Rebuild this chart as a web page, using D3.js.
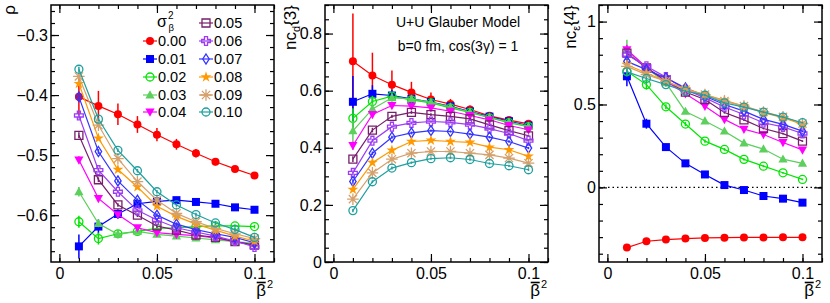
<!DOCTYPE html>
<html>
<head>
<meta charset="utf-8">
<script src="https://cdn.jsdelivr.net/npm/d3@7"></script>
<style>
  body { margin: 0; background: #fff; }
  svg text { font-family: "Liberation Sans", Arial, Helvetica, sans-serif; fill: #000; }
</style>
</head>
<body>
<svg id="chart" width="830" height="303"></svg>
<script>
// x values (beta bar squared) shared by all three panels
const betaBar2 = [0.01, 0.02, 0.03, 0.04, 0.05, 0.06, 0.07, 0.08, 0.09, 0.10];

// one series per sigma_beta^2 value
const sigmaLabels = ["0.00", "0.01", "0.02", "0.03", "0.04", "0.05", "0.06", "0.07", "0.08", "0.09", "0.10"];
const seriesColors = ["#ff0000", "#0000ff", "#00e600", "#5ccf5c", "#ff00ff", "#771f6c",
                      "#9d3cf5", "#3333ff", "#ff9900", "#d4a06c", "#1fa0a0"];
const seriesMarkers = ["circle", "square", "circleOpen", "triangle", "triangleDown", "squareOpen",
                       "crossOpen", "diamondOpen", "star", "asterisk", "circleOpen"];

// left panel: rho
const rhoValues = [
  [-0.403, -0.418, -0.432, -0.449, -0.466, -0.482, -0.497, -0.511, -0.523, -0.534],
  [-0.652, -0.619, -0.598, -0.581, -0.577, -0.575, -0.578, -0.581, -0.587, -0.591],
  [-0.611, -0.639, -0.631, -0.627, -0.622, -0.621, -0.619, -0.618, -0.618, -0.619],
  [-0.561, -0.614, -0.632, -0.627, -0.632, -0.635, -0.638, -0.641, -0.644, -0.647],
  [-0.508, -0.572, -0.599, -0.621, -0.629, -0.632, -0.634, -0.638, -0.644, -0.650],
  [-0.467, -0.541, -0.583, -0.600, -0.618, -0.625, -0.633, -0.637, -0.644, -0.650],
  [-0.434, -0.525, -0.561, -0.592, -0.608, -0.621, -0.628, -0.635, -0.643, -0.653],
  [-0.403, -0.494, -0.543, -0.575, -0.600, -0.615, -0.624, -0.631, -0.637, -0.646],
  [-0.381, -0.472, -0.524, -0.553, -0.585, -0.602, -0.615, -0.625, -0.635, -0.643],
  [-0.369, -0.450, -0.506, -0.544, -0.575, -0.597, -0.611, -0.622, -0.631, -0.639],
  [-0.357, -0.440, -0.492, -0.526, -0.561, -0.583, -0.599, -0.613, -0.624, -0.637]
];
const rhoErrors = [
  [0.030, 0.025, 0.018, 0.014, 0.011, 0.009, 0.007, 0.006, 0.005, 0.004],
  [0.020, 0.012, 0.008, 0.006, 0.005, 0.004, 0.004, 0.003, 0.003, 0.003],
  [0.010, 0.010, 0.006, 0.004, 0.003, 0.003, 0.003, 0.003, 0.003, 0.003],
  [0.008, 0.006, 0.004, 0.003, 0.003, 0.003, 0.003, 0.003, 0.003, 0.003],
  [0.006, 0.005, 0.004, 0.003, 0.003, 0.003, 0.003, 0.003, 0.003, 0.003],
  [0.005, 0.004, 0.003, 0.003, 0.003, 0.003, 0.003, 0.003, 0.003, 0.003],
  [0.005, 0.004, 0.003, 0.003, 0.003, 0.003, 0.003, 0.003, 0.003, 0.003],
  [0.004, 0.004, 0.003, 0.003, 0.003, 0.003, 0.003, 0.003, 0.003, 0.003],
  [0.004, 0.003, 0.003, 0.003, 0.003, 0.003, 0.003, 0.003, 0.003, 0.003],
  [0.004, 0.003, 0.003, 0.003, 0.003, 0.003, 0.003, 0.003, 0.003, 0.003],
  [0.004, 0.003, 0.003, 0.003, 0.003, 0.003, 0.003, 0.003, 0.003, 0.003]
];

// middle panel: nc_d{3}
const ncd3Values = [
  [0.703, 0.653, 0.621, 0.594, 0.569, 0.553, 0.534, 0.512, 0.497, 0.484],
  [0.561, 0.589, 0.583, 0.571, 0.560, 0.545, 0.527, 0.509, 0.493, 0.478],
  [0.503, 0.562, 0.581, 0.568, 0.557, 0.540, 0.524, 0.505, 0.488, 0.474],
  [0.459, 0.536, 0.575, 0.571, 0.559, 0.543, 0.525, 0.507, 0.490, 0.475],
  [0.408, 0.517, 0.548, 0.546, 0.540, 0.528, 0.513, 0.498, 0.478, 0.463],
  [0.360, 0.462, 0.510, 0.524, 0.516, 0.510, 0.501, 0.480, 0.460, 0.442],
  [0.312, 0.425, 0.474, 0.487, 0.492, 0.489, 0.481, 0.467, 0.450, 0.425],
  [0.282, 0.381, 0.437, 0.452, 0.460, 0.457, 0.448, 0.437, 0.422, 0.399],
  [0.254, 0.348, 0.391, 0.422, 0.426, 0.422, 0.419, 0.402, 0.393, 0.370],
  [0.220, 0.312, 0.360, 0.381, 0.387, 0.387, 0.381, 0.375, 0.364, 0.346],
  [0.180, 0.281, 0.329, 0.348, 0.362, 0.365, 0.359, 0.345, 0.337, 0.323]
];
const ncd3Errors = [
  [0.167, 0.080, 0.050, 0.037, 0.025, 0.018, 0.014, 0.011, 0.009, 0.008],
  [0.090, 0.030, 0.020, 0.015, 0.012, 0.010, 0.008, 0.007, 0.006, 0.005],
  [0.035, 0.020, 0.012, 0.010, 0.008, 0.007, 0.006, 0.005, 0.005, 0.004],
  [0.035, 0.020, 0.012, 0.010, 0.008, 0.007, 0.006, 0.005, 0.005, 0.004],
  [0.015, 0.010, 0.008, 0.006, 0.005, 0.005, 0.004, 0.004, 0.004, 0.004],
  [0.010, 0.008, 0.006, 0.005, 0.005, 0.004, 0.004, 0.004, 0.004, 0.004],
  [0.008, 0.006, 0.005, 0.005, 0.004, 0.004, 0.004, 0.004, 0.004, 0.004],
  [0.008, 0.006, 0.005, 0.005, 0.004, 0.004, 0.004, 0.004, 0.004, 0.004],
  [0.006, 0.005, 0.005, 0.004, 0.004, 0.004, 0.004, 0.004, 0.004, 0.004],
  [0.006, 0.005, 0.005, 0.004, 0.004, 0.004, 0.004, 0.004, 0.004, 0.004],
  [0.006, 0.005, 0.005, 0.004, 0.004, 0.004, 0.004, 0.004, 0.004, 0.004]
];

// right panel: nc_eps{4}
const nce4Values = [
  [-0.363, -0.325, -0.315, -0.309, -0.305, -0.303, -0.302, -0.302, -0.301, -0.301],
  [0.670, 0.384, 0.243, 0.145, 0.078, 0.014, -0.016, -0.052, -0.068, -0.092],
  [0.700, 0.620, 0.486, 0.382, 0.279, 0.229, 0.169, 0.128, 0.088, 0.048],
  [0.830, 0.720, 0.630, 0.458, 0.400, 0.339, 0.267, 0.231, 0.170, 0.145],
  [0.830, 0.725, 0.640, 0.565, 0.490, 0.410, 0.351, 0.319, 0.271, 0.226],
  [0.810, 0.720, 0.645, 0.575, 0.530, 0.452, 0.407, 0.355, 0.324, 0.279],
  [0.800, 0.730, 0.665, 0.590, 0.540, 0.485, 0.440, 0.390, 0.365, 0.325],
  [0.760, 0.710, 0.660, 0.600, 0.550, 0.500, 0.460, 0.410, 0.380, 0.339],
  [0.740, 0.690, 0.640, 0.595, 0.560, 0.525, 0.490, 0.450, 0.420, 0.380],
  [0.730, 0.680, 0.640, 0.590, 0.560, 0.520, 0.490, 0.455, 0.425, 0.385],
  [0.697, 0.657, 0.620, 0.580, 0.556, 0.510, 0.484, 0.454, 0.424, 0.390]
];
const nce4Errors = [
  [0.008, 0.006, 0.005, 0.004, 0.004, 0.004, 0.004, 0.004, 0.004, 0.004],
  [0.060, 0.030, 0.020, 0.015, 0.010, 0.008, 0.007, 0.006, 0.005, 0.005],
  [0.030, 0.030, 0.015, 0.012, 0.010, 0.008, 0.007, 0.006, 0.005, 0.005],
  [0.060, 0.020, 0.015, 0.012, 0.010, 0.008, 0.007, 0.006, 0.005, 0.005],
  [0.030, 0.015, 0.012, 0.010, 0.008, 0.007, 0.006, 0.005, 0.005, 0.005],
  [0.020, 0.015, 0.012, 0.010, 0.008, 0.007, 0.006, 0.005, 0.005, 0.005],
  [0.020, 0.015, 0.012, 0.010, 0.008, 0.007, 0.006, 0.005, 0.005, 0.005],
  [0.015, 0.012, 0.010, 0.008, 0.007, 0.006, 0.005, 0.005, 0.005, 0.005],
  [0.015, 0.012, 0.010, 0.008, 0.007, 0.006, 0.005, 0.005, 0.005, 0.005],
  [0.015, 0.012, 0.010, 0.008, 0.007, 0.006, 0.005, 0.005, 0.005, 0.005],
  [0.015, 0.012, 0.010, 0.008, 0.007, 0.006, 0.005, 0.005, 0.005, 0.005]
];

// tick values
const xMajorTicks = [0, 0.05, 0.1];
const rhoMajorTicks = [-0.6, -0.5, -0.4, -0.3];
const ncd3MajorTicks = [0, 0.2, 0.4, 0.6, 0.8];
const nce4MajorTicks = [0, 0.5, 1];

const svg = d3.select("#chart");
const fmt = d3.format("~g");

// minor ticks: every step inside the domain
const minorTicks = (domain, step) => {
  const lo = Math.ceil(Math.min(...domain) / step - 1e-9);
  const hi = Math.floor(Math.max(...domain) / step + 1e-9);
  return d3.range(lo, hi + 1).map(i => +(i * step).toFixed(4));
};

// marker shapes, s is the half size
const markerPath = (type, s) => {
  switch (type) {
    case "circle":
    case "circleOpen":
      return `M${s},0A${s},${s} 0 1 1 ${-s},0A${s},${s} 0 1 1 ${s},0Z`;
    case "square":
    case "squareOpen":
      return `M${-s},${-s}H${s}V${s}H${-s}Z`;
    case "triangle":
      return `M0,${-1.2 * s}L${1.15 * s},${0.85 * s}L${-1.15 * s},${0.85 * s}Z`;
    case "triangleDown":
      return `M0,${1.2 * s}L${1.15 * s},${-0.85 * s}L${-1.15 * s},${-0.85 * s}Z`;
    case "crossOpen": {
      const a = s * 0.38, b = s * 1.1;
      return `M${-a},${-b}H${a}V${-a}H${b}V${a}H${a}V${b}H${-a}V${a}H${-b}V${-a}H${-a}Z`;
    }
    case "diamondOpen":
      return `M0,${-1.25 * s}L${0.8 * s},0L0,${1.25 * s}L${-0.8 * s},0Z`;
    case "star":
      return d3.symbol(d3.symbolStar, 2.3 * s * s)();
    case "asterisk": {
      const r = 1.45 * s, d = r * Math.SQRT1_2;
      return `M${-r},0H${r}M0,${-r}V${r}M${-d},${-d}L${d},${d}M${-d},${d}L${d},${-d}`;
    }
  }
};

const drawMarker = (g, type, color, s) => {
  const open = ["circleOpen", "squareOpen", "crossOpen", "diamondOpen", "asterisk"].includes(type);
  return g.append("path")
    .attr("d", markerPath(type, s))
    .attr("fill", open ? "none" : color)
    .attr("stroke", open ? color : "none")
    .attr("stroke-width", 1.3);
};

const frameTop = 5, frameBottom = 262, frameWidth = 223;
const xDomain = [-0.0043, 0.11];

function drawPanel(cfg) {
  const { left, yDomain, yMajor, yMinorStep, values, errors } = cfg;
  const x = d3.scaleLinear().domain(xDomain).range([left, left + frameWidth]);
  const y = d3.scaleLinear().domain(yDomain).range([frameBottom, frameTop]);
  const g = svg.append("g");

  // zero line (right panel only)
  if (cfg.zeroLine) {
    g.append("line")
      .attr("x1", left).attr("x2", left + frameWidth)
      .attr("y1", y(0)).attr("y2", y(0))
      .attr("stroke", "#000").attr("stroke-width", 1.3)
      .attr("stroke-dasharray", "1.5,3");
  }

  // series, drawn in order so the last ones sit on top
  values.forEach((vals, si) => {
    const color = seriesColors[si];
    const sg = g.append("g");
    const pts = betaBar2.map((b, i) => ({ b, v: vals[i], e: errors[si][i] }));

    sg.selectAll(".err")
      .data(pts)
      .join("line")
        .attr("x1", d => x(d.b)).attr("x2", d => x(d.b))
        .attr("y1", d => y(d.v - d.e)).attr("y2", d => y(d.v + d.e))
        .attr("stroke", color).attr("stroke-width", 1.5);

    sg.append("path")
      .datum(pts)
      .attr("fill", "none")
      .attr("stroke", color)
      .attr("stroke-width", 1.2)
      .attr("d", d3.line().x(d => x(d.b)).y(d => y(d.v)));

    pts.forEach(d => {
      drawMarker(sg, seriesMarkers[si], color, 4)
        .attr("transform", `translate(${x(d.b)},${y(d.v)})`);
    });
  });

  // axes: ticks pointing inwards on all four sides
  const xMinor = minorTicks(xDomain, 0.01);
  const yMinor = minorTicks(yDomain, yMinorStep);
  const axisStyle = sel => {
    sel.select(".domain").remove();
    sel.selectAll(".tick line").attr("stroke", "#000").attr("stroke-width", 1.2);
    sel.selectAll("text").style("font-size", "16px").attr("fill", "#000");
  };

  g.append("g").attr("transform", `translate(0,${frameBottom})`)
    .call(d3.axisBottom(x).tickValues(xMajorTicks).tickSize(-8).tickPadding(6).tickFormat(fmt))
    .call(axisStyle);
  g.append("g").attr("transform", `translate(0,${frameBottom})`)
    .call(d3.axisBottom(x).tickValues(xMinor).tickSize(-4).tickFormat(""))
    .call(axisStyle);
  g.append("g").attr("transform", `translate(0,${frameTop})`)
    .call(d3.axisTop(x).tickValues(xMajorTicks).tickSize(-8).tickFormat(""))
    .call(axisStyle);
  g.append("g").attr("transform", `translate(0,${frameTop})`)
    .call(d3.axisTop(x).tickValues(xMinor).tickSize(-4).tickFormat(""))
    .call(axisStyle);

  g.append("g").attr("transform", `translate(${left},0)`)
    .call(d3.axisLeft(y).tickValues(yMajor).tickSize(-8).tickPadding(3).tickFormat(fmt))
    .call(axisStyle);
  g.append("g").attr("transform", `translate(${left},0)`)
    .call(d3.axisLeft(y).tickValues(yMinor).tickSize(-4).tickFormat(""))
    .call(axisStyle);
  g.append("g").attr("transform", `translate(${left + frameWidth},0)`)
    .call(d3.axisRight(y).tickValues(yMajor).tickSize(-8).tickFormat(""))
    .call(axisStyle);
  g.append("g").attr("transform", `translate(${left + frameWidth},0)`)
    .call(d3.axisRight(y).tickValues(yMinor).tickSize(-4).tickFormat(""))
    .call(axisStyle);

  // frame
  g.append("rect")
    .attr("x", left).attr("y", frameTop)
    .attr("width", frameWidth).attr("height", frameBottom - frameTop)
    .attr("fill", "none").attr("stroke", "#000").attr("stroke-width", 1.5);

  // x title: beta bar squared
  const right = left + frameWidth;
  const bt = g.append("text")
    .attr("x", right - 8).attr("y", 296)
    .attr("text-anchor", "end")
    .style("font-size", "17px")
    .text("β");
  g.append("text")
    .attr("x", right - 7).attr("y", 288)
    .style("font-size", "11px")
    .text("2");
  const bb = bt.node().getBBox();
  g.append("line")
    .attr("x1", bb.x + 0.5).attr("x2", bb.x + bb.width - 0.5)
    .attr("y1", 282.5).attr("y2", 282.5)
    .attr("stroke", "#000").attr("stroke-width", 1.6);

  // y title, rotated and aligned to the top
  const yt = g.append("text")
    .attr("transform", `translate(${cfg.titleX},${frameTop}) rotate(-90)`)
    .attr("text-anchor", "end")
    .style("font-size", "17px");
  cfg.title(yt);

  return { x, y, g };
}

drawPanel({
  left: 51, yDomain: [-0.678, -0.25], yMajor: rhoMajorTicks, yMinorStep: 0.02,
  values: rhoValues, errors: rhoErrors, titleX: 15,
  title: t => t.text("ρ")
});

drawPanel({
  left: 325, yDomain: [0, 0.9], yMajor: ncd3MajorTicks, yMinorStep: 0.05,
  values: ncd3Values, errors: ncd3Errors, titleX: 296,
  title: t => {
    t.append("tspan").text("nc");
    t.append("tspan").attr("dy", 4).style("font-size", "11px").text("d");
    t.append("tspan").attr("dy", -4).text("{3}");
  }
});

drawPanel({
  left: 599, yDomain: [-0.45, 1.1], yMajor: nce4MajorTicks, yMinorStep: 0.1,
  values: nce4Values, errors: nce4Errors, titleX: 576, zeroLine: true,
  title: t => {
    t.append("tspan").text("nc");
    t.append("tspan").attr("dy", 4).style("font-size", "11px").text("ε");
    t.append("tspan").attr("dy", -4).text("{4}");
  }
});

// model description in the middle panel
svg.append("text")
  .attr("x", 458).attr("y", 27)
  .attr("text-anchor", "middle")
  .style("font-size", "14px")
  .text("U+U Glauber Model");
svg.append("text")
  .attr("x", 458).attr("y", 51)
  .attr("text-anchor", "middle")
  .style("font-size", "14px")
  .text("b=0 fm, cos(3γ) = 1");

// legend in the left panel
const legend = svg.append("g");
legend.append("text").attr("x", 157).attr("y", 26.5).style("font-size", "16px").text("σ");
legend.append("text").attr("x", 168).attr("y", 18.5).style("font-size", "10px").text("2");
legend.append("text").attr("x", 168.5).attr("y", 31).style("font-size", "9.5px").text("β");

const legendRowY = [23, 41, 59, 77, 95, 112];
sigmaLabels.forEach((lab, i) => {
  const col = i < 5 ? 0 : 1;
  const row = i < 5 ? i + 1 : i - 5;
  const cx = col === 0 ? 150 : 206;
  const cy = legendRowY[row];
  legend.append("line")
    .attr("x1", cx - 7).attr("x2", cx + 7)
    .attr("y1", cy).attr("y2", cy)
    .attr("stroke", seriesColors[i]).attr("stroke-width", 1.2);
  drawMarker(legend, seriesMarkers[i], seriesColors[i], 4)
    .attr("transform", `translate(${cx},${cy})`);
  legend.append("text")
    .attr("x", cx + 8).attr("y", cy + 5.3)
    .style("font-size", "14.5px")
    .text(lab);
});
</script>
</body>
</html>
